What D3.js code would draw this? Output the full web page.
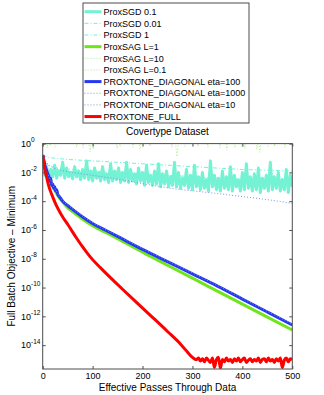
<!DOCTYPE html>
<html>
<head>
<meta charset="utf-8">
<script src="https://cdn.jsdelivr.net/npm/d3@7"></script>
<style>
  body { margin: 0; background: #fff; }
  text { font-family: "Liberation Sans", Arial, sans-serif; fill: #000; }
</style>
</head>
<body>
<div class="chart"></div>
<script>
// values are log10 of (objective - minimum)
var sgdPass = d3.range(0, 501, 4);
var sgd01Log = [
  -0.9, -2.2, -1.6, -2.4, -1.8, -2.3, -1.5, -2.4, -1.9, -2.2,
  -1.3, -2.4, -1.7, -2.3, -2.0, -2.45, -1.6, -2.3, -1.9, -2.5,
  -1.8, -2.4, -1.2, -2.5, -1.9, -2.6, -1.7, -2.4, -2.0, -2.6,
  -1.6, -2.5, -2.1, -2.7, -1.4, -2.6, -1.9, -2.5, -1.7, -2.7,
  -2.0, -2.6, -1.3, -2.7, -1.8, -2.6, -2.1, -2.8, -1.7, -2.6,
  -2.0, -2.9, -1.5, -2.7, -2.2, -2.9, -1.9, -2.8, -1.4, -3.0,
  -2.1, -2.8, -1.9, -3.0, -2.3, -2.9, -1.3, -3.0, -2.0, -3.1,
  -2.4, -2.9, -1.8, -3.1, -2.2, -3.2, -1.5, -3.0, -2.3, -3.2,
  -2.0, -3.1, -2.5, -3.3, -1.2, -3.0, -2.2, -3.2, -2.4, -3.3,
  -1.9, -3.1, -2.3, -3.2, -1.6, -3.3, -2.2, -3.0, -2.5, -3.3,
  -2.0, -3.2, -1.4, -3.1, -2.3, -3.3, -2.1, -3.2, -1.7, -3.4,
  -2.4, -3.1, -2.2, -3.3, -1.3, -3.2, -2.3, -3.1, -2.0, -3.3,
  -2.5, -3.2, -1.8, -3.4, -2.2, -3.0
];

var sgd001Pass = [0, 10, 20, 35, 50, 75, 100, 150, 200, 250, 300, 350, 400, 450, 500];
var sgd001Log = [-0.8, -0.95, -1.0, -1.05, -1.1, -1.15, -1.2, -1.3, -1.4, -1.5, -1.6, -1.7, -1.8, -1.85, -1.9];

var sgd1Pass = [0, 10, 30, 60, 100, 150, 200, 250, 300, 350, 400, 450, 500];
var sgd1Log = [-0.8, -1.5, -1.7, -1.8, -1.9, -2.0, -2.1, -2.2, -2.3, -2.4, -2.5, -2.55, -2.6];

var sagL1Pass = [0, 4, 8, 12, 16, 20, 25, 30, 40, 50, 61, 80, 100, 125, 150, 200, 250, 300, 350, 400, 450, 500];
var sagL1Log = [-0.8, -1.5, -1.95, -2.35, -2.7, -3.0, -3.3, -3.6, -4.05, -4.45, -4.75, -5.25, -5.7, -6.15, -6.6, -7.55, -8.45, -9.35, -10.25, -11.15, -12.05, -12.95];

var sagL10Pass = [0, 6, 9, 12, 21, 25, 28, 91, 95, 98, 101, 104, 178, 181, 184, 192, 195, 198, 256, 259, 262, 265, 269, 273,
  308, 311, 314, 352, 355, 358, 366, 369, 372, 396, 399, 402, 426, 429, 432, 435, 438, 462, 465, 468, 482, 485, 488, 500];
var sagL10Log = [0.4, 0.4, -0.3, 0.4, 0.4, -0.2, 0.4, 0.4, -0.56, 0.4, -0.4, 0.4, 0.4, -0.25, 0.4, 0.4, -0.4, 0.4, 0.4, -0.3, 0.4, 0.4, -0.9, 0.4,
  0.4, -0.2, 0.4, 0.4, -0.3, 0.4, 0.4, -0.45, 0.4, 0.4, -0.25, 0.4, 0.4, -0.4, 0.4, -0.6, 0.4, 0.4, -0.2, 0.4, 0.4, -0.25, 0.4, 0.4];

var sagL01Pass = [0, 12, 15, 18, 65, 68, 71, 78, 81, 84, 146, 149, 152, 155, 158, 212, 215, 218, 282, 285, 288, 328, 331, 334,
  382, 385, 388, 402, 405, 408, 448, 451, 454, 500];
var sagL01Log = [0.4, 0.4, -0.15, 0.4, 0.4, -0.25, 0.4, 0.4, -0.3, 0.4, 0.4, -0.35, 0.4, -0.2, 0.4, 0.4, -0.2, 0.4, 0.4, -0.2, 0.4, 0.4, -0.25, 0.4,
  0.4, -0.3, 0.4, 0.4, -0.35, 0.4, 0.4, -0.2, 0.4, 0.4];

var diag100Pass = [0, 2, 3, 4, 5, 6, 7, 8, 9, 10, 11, 12, 14, 16, 18, 20, 22, 24, 26, 28, 30, 35, 40, 50, 61, 80, 100, 125, 150, 200, 250, 300, 350, 400, 450, 500];
var diag100Log = [-0.8, -1.1, -1.5, -1.3, -1.8, -1.6, -2.0, -1.8, -2.2, -2.0, -2.4, -2.2, -2.6, -2.4, -2.9, -2.8, -3.1, -3.0, -3.3, -3.2, -3.5, -3.75, -4.0, -4.3, -4.6, -5.1, -5.55, -6.0, -6.45, -7.35, -8.2, -9.05, -9.9, -10.8, -11.7, -12.6];

var diag1000Pass = [0, 10, 20, 35, 60, 95, 130, 161, 200, 248, 300, 345, 400, 445, 500];
var diag1000Log = [-0.8, -1.4, -1.65, -1.83, -2.0, -2.18, -2.36, -2.53, -2.78, -3.06, -3.28, -3.45, -3.68, -3.87, -4.15];

var diag10Pass = [0, 5, 10, 20, 30, 40, 61, 100, 150, 200, 250, 300, 350, 400, 450, 500];
var diag10Log = [-0.8, -1.8, -2.1, -2.85, -3.45, -3.95, -4.55, -5.5, -6.4, -7.3, -8.15, -9.0, -9.85, -10.75, -11.65, -12.55];

var fullPass = [0, 2, 4, 6, 8, 11, 15, 20, 28, 35, 42, 50, 60, 70, 80, 90, 100, 115, 130, 145, 161, 190, 221, 250, 278, 288, 294,
  300, 304, 308, 312, 316, 320, 324, 328, 332, 336, 340, 344, 348, 352, 356, 360, 364, 368, 372, 376, 380, 384, 388, 392, 396,
  400, 404, 408, 412, 416, 420, 424, 428, 432, 436, 440, 444, 448, 452, 456, 460, 464, 468, 472, 476, 480, 484, 488, 492, 496, 500];
var fullLog = [-0.8, -1.3, -1.75, -2.1, -2.35, -2.8, -3.25, -3.7, -4.35, -4.8, -5.2, -5.6, -6.15, -6.68, -7.18, -7.64, -8.06, -8.6, -9.12, -9.62, -10.15, -11.1, -12.1, -13.05, -14.0, -14.4, -14.65,
  -14.85, -14.95, -15.0, -14.9, -15.1, -14.95, -15.15, -14.9, -15.05, -15.2, -14.9, -15.55, -15.0, -14.85, -15.6, -15.0, -15.15, -14.9, -15.1, -15.0, -15.2, -14.95, -15.1, -14.9, -15.15,
  -15.0, -14.9, -15.2, -15.05, -14.95, -15.15, -15.0, -15.1, -14.9, -15.2, -15.0, -14.95, -15.15, -14.9, -15.1, -15.0, -15.2, -14.95, -15.1, -14.9, -15.55, -15.05, -14.9, -15.15, -14.95, -15.0];

var xTicks = [0, 100, 200, 300, 400, 500];
var yTickExp = [0, -2, -4, -6, -8, -10, -12, -14];

var series = [
  { name: "ProxSGD 0.1", pass: sgdPass, log: sgd01Log, color: "#74f2d4", width: 3, dash: null, smooth: false },
  { name: "ProxSGD 0.01", pass: sgd001Pass, log: sgd001Log, color: "#74f2d4", width: 1, dash: "4,2,1,2", smooth: false },
  { name: "ProxSGD 1", pass: sgd1Pass, log: sgd1Log, color: "#74f2d4", width: 1, dash: "4,2,1,2", smooth: false },
  { name: "ProxSAG L=1", pass: sagL1Pass, log: sagL1Log, color: "#6fe619", width: 3, dash: null, smooth: true },
  { name: "ProxSAG L=10", pass: sagL10Pass, log: sagL10Log, color: "#a8ee84", width: 1, dash: "1,2", smooth: false },
  { name: "ProxSAG L=0.1", pass: sagL01Pass, log: sagL01Log, color: "#a8ee84", width: 1, dash: "1,2", smooth: false },
  { name: "PROXTONE_DIAGONAL eta=100", pass: diag100Pass, log: diag100Log, color: "#2438ee", width: 3, dash: null, smooth: true },
  { name: "PROXTONE_DIAGONAL eta=1000", pass: diag1000Pass, log: diag1000Log, color: "#7f92e6", width: 1, dash: "1,2", smooth: true },
  { name: "PROXTONE_DIAGONAL eta=10", pass: diag10Pass, log: diag10Log, color: "#7f92e6", width: 1, dash: "1,2", smooth: true },
  { name: "PROXTONE_FULL", pass: fullPass, log: fullLog, color: "#ff0000", width: 3, dash: null, smooth: true }
];

var svgWidth = 324;
var svgHeight = 395;
var plot = { left: 42.7, right: 292.3, top: 143.6, bottom: 369 };

var svg = d3.select(".chart")
  .append("svg")
  .attr("width", svgWidth)
  .attr("height", svgHeight);

var xScale = d3.scaleLinear().domain([0, 500]).range([plot.left, plot.right]);
var yScale = d3.scaleLog().domain([2.2e-16, 1]).range([plot.bottom, plot.top]);

svg.append("clipPath")
  .attr("id", "clip")
  .append("rect")
  .attr("x", plot.left)
  .attr("y", plot.top)
  .attr("width", plot.right - plot.left)
  .attr("height", plot.bottom - plot.top);

var line = d3.line()
  .x(d => xScale(d.p))
  .y(d => yScale(d.v));

var linesGroup = svg.append("g").attr("clip-path", "url(#clip)");

series.forEach(function (s) {
  var pts = s.pass.map((p, i) => ({ p: p, v: Math.pow(10, s.log[i]) }));
  line.curve(s.smooth ? d3.curveMonotoneX : d3.curveLinear);
  linesGroup.append("path")
    .datum(pts)
    .attr("d", line)
    .attr("fill", "none")
    .attr("stroke", s.color)
    .attr("stroke-width", s.width)
    .attr("stroke-linejoin", "round")
    .attr("stroke-dasharray", s.dash);
});

// axes, ticks pointing inward on all four sides
var axisColor = "#4d4d4d";
var yTickVals = yTickExp.map(e => Math.pow(10, e));

var bottomAxis = svg.append("g")
  .attr("transform", `translate(0, ${plot.bottom})`)
  .call(d3.axisBottom(xScale).tickValues(xTicks).tickSize(-3).tickPadding(3.6));
var topAxis = svg.append("g")
  .attr("transform", `translate(0, ${plot.top})`)
  .call(d3.axisTop(xScale).tickValues(xTicks).tickSize(-3).tickFormat(""));
var leftAxis = svg.append("g")
  .attr("transform", `translate(${plot.left}, 0)`)
  .call(d3.axisLeft(yScale).tickValues(yTickVals).tickSize(-3).tickFormat(""));
var rightAxis = svg.append("g")
  .attr("transform", `translate(${plot.right}, 0)`)
  .call(d3.axisRight(yScale).tickValues(yTickVals).tickSize(-3).tickFormat(""));

[bottomAxis, topAxis, leftAxis, rightAxis].forEach(function (g) {
  g.select(".domain").remove();
  g.selectAll("line").attr("stroke", axisColor);
});
bottomAxis.selectAll("text")
  .attr("font-size", 9)
  .attr("fill", "#000")
  .attr("font-family", "Liberation Sans, Arial, sans-serif");

svg.append("rect")
  .attr("x", plot.left)
  .attr("y", plot.top)
  .attr("width", plot.right - plot.left)
  .attr("height", plot.bottom - plot.top)
  .attr("fill", "none")
  .attr("stroke", axisColor)
  .attr("stroke-width", 1);

// y tick labels as 10 with superscript
var yLabels = svg.append("g");
yTickExp.forEach(function (e) {
  var t = yLabels.append("text")
    .attr("x", 21)
    .attr("y", yScale(Math.pow(10, e)) + 3.2)
    .attr("font-size", 9);
  t.append("tspan").text("10");
  t.append("tspan")
    .attr("dy", -4.5)
    .attr("font-size", 6.5)
    .text(e === 0 ? "0" : "-" + Math.abs(e));
});

// title and axis labels
svg.append("text")
  .attr("x", (plot.left + plot.right) / 2)
  .attr("y", 135)
  .attr("text-anchor", "middle")
  .attr("font-size", 10)
  .text("Covertype Dataset");

svg.append("text")
  .attr("x", (plot.left + plot.right) / 2)
  .attr("y", 390.7)
  .attr("text-anchor", "middle")
  .attr("font-size", 10)
  .text("Effective Passes Through Data");

svg.append("text")
  .attr("transform", `translate(14.5, ${(plot.top + plot.bottom) / 2}) rotate(-90)`)
  .attr("text-anchor", "middle")
  .attr("font-size", 10)
  .text("Full Batch Objective \u2013 Minimum");

// legend
var legend = svg.append("g");
legend.append("rect")
  .attr("x", 83)
  .attr("y", 3)
  .attr("width", 166)
  .attr("height", 120)
  .attr("fill", "#fff")
  .attr("stroke", axisColor)
  .attr("stroke-width", 1);

series.forEach(function (s, i) {
  var ry = 11.7 + i * 11.65;
  legend.append("line")
    .attr("x1", 84.5)
    .attr("x2", 101.5)
    .attr("y1", ry)
    .attr("y2", ry)
    .attr("stroke", s.color)
    .attr("stroke-width", s.width)
    .attr("stroke-dasharray", s.dash);
  legend.append("text")
    .attr("x", 103.5)
    .attr("y", ry + 3.2)
    .attr("font-size", 9)
    .text(s.name);
});
</script>
</body>
</html>
